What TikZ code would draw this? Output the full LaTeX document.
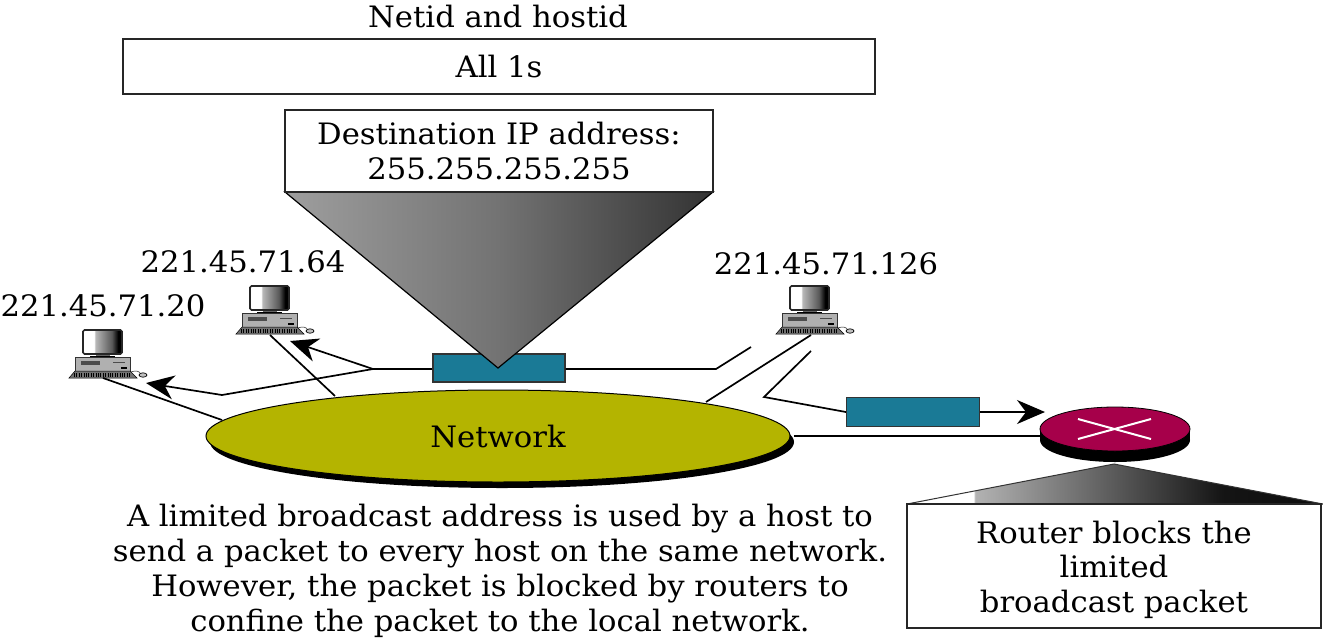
\documentclass[tikz,border=0pt]{standalone}
\usepackage{fontspec}
\setmainfont[FakeStretch=1.04]{DejaVu Serif}
\usetikzlibrary{arrows.meta,shapes.geometric}
\definecolor{tealbox}{HTML}{1A7A96}
\definecolor{netolive}{HTML}{B4B400}
\definecolor{routerred}{HTML}{A6004A}
\definecolor{cgray}{HTML}{B0B0B0}
\pgfdeclarehorizontalshading{destgrad}{100bp}{color(0bp)=(black!38);color(25bp)=(black!38);color(50bp)=(black!55);color(75bp)=(black!80);color(100bp)=(black!80)}
\pgfdeclarehorizontalshading{routergrad}{100bp}{color(0bp)=(white);color(33bp)=(white);color(33.2bp)=(black!30);color(63bp)=(black!92);color(75bp)=(black!95);color(100bp)=(black!95)}
\pgfdeclarehorizontalshading{screengrad}{100bp}{color(0bp)=(white);color(39bp)=(white);color(41bp)=(black!28);color(62bp)=(black!65);color(70bp)=(black);color(100bp)=(black)}
\tikzset{
  x=1pt,y=-1pt,
  txt/.style={font=\fontsize{29.5}{35}\selectfont,inner sep=0pt,align=center},
  labelbox/.style={draw=black!85,line width=1.4pt,fill=white,inner sep=0pt,font=\fontsize{29.5}{34.5}\selectfont,align=center},
  packet/.style={draw=black!80,line width=1.2pt,fill=tealbox,inner sep=0pt},
  wire/.style={draw=black,line width=1.7pt,line join=miter},
  flow/.style={wire,-{Stealth[length=28pt,width=24pt,inset=9pt]}},
  computer/.pic={
    \fill[draw=black!80,line width=.8pt,fill=cgray] (-28,-21) rectangle (27,-7);
    \fill[black!70] (-22,-17) rectangle (-3,-13);
    \fill[black!70] (10,-16) rectangle (22,-15);
    \fill[black] (18,-11) rectangle (24,-9.5);
    \fill[black!60] (-7,-24) rectangle (7,-21);
    \fill[black] (-13,-22.5) rectangle (12,-21);
    \draw[black!85,line width=1.6pt,rounded corners=1.5pt,shading=screengrad] (-20,-48) rectangle (19,-24);
    \fill[black!55,draw=black,line width=.5pt] (-28,-7) -- (27,-7) -- (34,0) -- (-34,0) -- cycle;
    \draw[black,line width=4pt,dash pattern=on .8pt off 1.6pt] (-29,-3.5) -- (28,-3.5);
    \draw[black!90,line width=.5pt] (28,-6) .. controls (33,-8) and (36,-7) .. (38,-4);
    \draw[black,line width=.7pt,fill=black!25] (40,-3) ellipse (4 and 2.2);
  },
}
\begin{document}
\begin{tikzpicture}
\useasboundingbox (0,0) rectangle (1323,638);
\node[txt] (title) at (498,16) {Netid and hostid};
\node[labelbox,minimum width=752pt,minimum height=55pt] (allones) at (499,66.5) {All 1s};
\node[packet,minimum width=132pt,minimum height=28pt] (p1) at (499,368) {};
\coordinate (ftl) at (285,192);
\coordinate (ftr) at (713,192);
\coordinate (fa) at (498,368);
\draw[black,line width=1.2pt,shading=destgrad] (ftl) -- (ftr) -- (fa) -- cycle;
\node[labelbox,minimum width=428pt,minimum height=82pt] (dest) at (499,151) {Destination IP address:\\255.255.255.255};
\pic (c1) at (103,378) {computer};
\pic (c2) at (270,334) {computer};
\pic (c3) at (810,334) {computer};
\coordinate (c1w) at (103,378);
\coordinate (c2w) at (270,335);
\coordinate (c3w) at (811,335);
\node[txt] (l1) at (103,306) {221.45.71.20};
\node[txt] (l2) at (243,262) {221.45.71.64};
\node[txt] (l3) at (826,264) {221.45.71.126};
\fill[black] (502,442) ellipse (292 and 46);
\node[draw=black,line width=1pt,fill=netolive,ellipse,inner sep=0pt,minimum width=584pt,minimum height=92pt,font=\fontsize{29.5}{35}\selectfont] (net) at (498,436) {Network};
\coordinate (rc) at (1115,429);
\fill[black] (1115,440) ellipse (75 and 22);
\fill[black] (1040,429) rectangle (1190,440);
\draw[black,line width=.8pt,fill=routerred] (rc) ellipse (75 and 22);
\draw[white,line width=2pt] (1078,419) -- (1151,439) (1151,419) -- (1078,439);
\coordinate (ra) at (1114,464);
\coordinate (rl) at (907,504);
\coordinate (rr) at (1323,504);
\draw[black!80,line width=1pt,shading=routergrad] (ra) -- (rl) -- (rr) -- cycle;
\node[labelbox,minimum width=414pt,minimum height=124pt] (rbox) at (1114,566) {\rule{0pt}{30pt}Router blocks the\\limited\\broadcast packet};
\node[packet,minimum width=133pt,minimum height=29pt] (p2) at (913,412) {};
\coordinate (j) at (373,369);
\coordinate (v) at (222,395);
\coordinate (t1) at (146,383);
\coordinate (t2) at (290,341);
\coordinate (e1) at (716,369);
\coordinate (e2) at (751,347);
\coordinate (s1) at (811,351);
\coordinate (s2) at (764,397);
\coordinate (r1) at (1045,412);
\coordinate (n1) at (222,420);
\coordinate (n2) at (335,396);
\coordinate (n3) at (706,402);
\draw[wire] (c1w) -- (n1);
\draw[wire] (c2w) -- (n2);
\draw[wire] (c3w) -- (n3);
\draw[wire] (p1.west |- j) -- (j);
\draw[flow] (j) -- (t2);
\draw[flow] (j) -- (v) -- (t1);
\draw[wire] (p1.east |- e1) -- (e1) -- (e2);
\draw[wire] (s1) -- (s2) -- (p2.west);
\draw[flow] (p2.east) -- (r1);
\draw[wire] (net.east) ++(3,0) -- (1040,436);
\node[txt] (cap) at (500,571) {A limited broadcast address is used by a host to\\send a packet to every host on the same network.\\However, the packet is blocked by routers to\\confine the packet to the local network.};
\end{tikzpicture}
\end{document}
